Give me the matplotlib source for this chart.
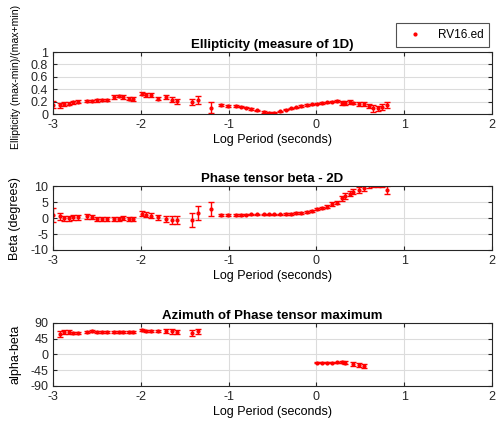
import numpy as np
import matplotlib
matplotlib.use("Agg")
import matplotlib.pyplot as plt

plt.rcParams['font.family'] = ['Liberation Sans', 'DejaVu Sans']

nan = np.nan

# log10 of period (s)
log_period = [-3.00, -2.92, -2.87, -2.82, -2.77, -2.71, -2.61, -2.56, -2.50, -2.44,
              -2.39, -2.31, -2.25, -2.20, -2.14, -2.09, -1.99, -1.94, -1.88, -1.80,
              -1.71, -1.65, -1.59, -1.42, -1.35, -1.20, -1.09, -1.01, -0.92, -0.86,
              -0.80, -0.74, -0.68, -0.60, -0.54, -0.48, -0.41, -0.35, -0.29, -0.23,
              -0.17, -0.11, -0.05, 0.01, 0.06, 0.12, 0.18, 0.23, 0.29, 0.33,
              0.38, 0.42, 0.48, 0.54, 0.60, 0.65, 0.70, 0.75, 0.80]

# ellipticity (max-min)/(max+min)
ellip = [0.15, 0.14, 0.16, 0.17, 0.19, 0.20, 0.21, 0.21, 0.22, 0.23,
         0.23, 0.27, 0.29, 0.27, 0.25, 0.24, 0.33, 0.31, 0.31, 0.25,
         0.28, 0.23, 0.21, 0.19, 0.23, 0.10, 0.145, 0.13, 0.13, 0.12,
         0.10, 0.08, 0.06, 0.035, 0.02, 0.02, 0.045, 0.07, 0.09, 0.11,
         0.13, 0.145, 0.16, 0.17, 0.18, 0.19, 0.20, 0.21, 0.18, 0.18,
         0.19, 0.18, 0.16, 0.16, 0.13, 0.09, 0.09, 0.12, 0.15]
ellip_err = [0.06, 0.04, 0.03, 0.02, 0.02, 0.02, 0.02, 0.02, 0.02, 0.02,
             0.02, 0.03, 0.02, 0.03, 0.02, 0.03, 0.03, 0.03, 0.03, 0.03,
             0.03, 0.04, 0.04, 0.05, 0.06, 0.09, 0.01, 0.01, 0.01, 0.01,
             0.01, 0.01, 0.01, 0.01, 0.01, 0.01, 0.01, 0.01, 0.01, 0.01,
             0.01, 0.01, 0.01, 0.01, 0.01, 0.01, 0.01, 0.01, 0.03, 0.03,
             0.03, 0.02, 0.03, 0.03, 0.04, 0.05, 0.04, 0.05, 0.05]

# phase tensor skew angle beta (degrees)
beta = [1.0, 0.5, 0.0, 0.0, 0.2, 0.2, 0.5, 0.4, -0.3, -0.3,
        -0.2, -0.3, -0.3, 0.0, -0.3, -0.3, 1.3, 1.0, 0.8, 0.2,
        -0.3, -0.7, -0.7, -0.7, 1.5, 2.8, 1.0, 1.0, 1.0, 1.0,
        1.1, 1.2, 1.2, 1.2, 1.2, 1.2, 1.2, 1.3, 1.3, 1.5,
        1.6, 1.8, 2.2, 2.8, 3.1, 3.6, 4.4, 4.8, 6.2, 6.9,
        7.6, 8.3, 8.8, 9.4, 10.5, 11.0, 11.0, 10.6, 8.8]
beta_err = [2.2, 1.2, 0.8, 0.8, 0.7, 0.7, 0.7, 0.7, 0.6, 0.6,
            0.6, 0.6, 0.6, 0.6, 0.6, 0.6, 0.8, 0.8, 0.8, 0.8,
            1.0, 1.3, 1.2, 2.2, 2.2, 2.3, 0.2, 0.2, 0.2, 0.2,
            0.2, 0.2, 0.2, 0.2, 0.2, 0.2, 0.2, 0.2, 0.2, 0.3,
            0.3, 0.3, 0.3, 0.4, 0.4, 0.4, 0.5, 0.5, 0.8, 0.8,
            0.8, 0.9, 1.0, 1.0, 1.0, 1.2, 1.2, 1.0, 1.2]

# azimuth of phase tensor maximum (alpha - beta, degrees)
azim = [nan, 58, 64, 64, 62, 62, 64, 67, 65, 65,
        65, 65, 65, 65, 65, 65, 69, 68, 68, 68,
        67, 66, 64, 62, 66, nan, nan, nan, nan, nan,
        nan, nan, nan, nan, nan, nan, nan, nan, nan, nan,
        nan, nan, nan, -24, -24, -24, -24, -23, -22, -24,
        nan, -27, -30, -33, nan, nan, nan, nan, nan]
azim_err = [0, 8, 5, 5, 3, 3, 3, 3, 3, 3,
            3, 3, 3, 3, 3, 3, 3, 3, 3, 3,
            5, 7, 6, 9, 8, 0, 0, 0, 0, 0,
            0, 0, 0, 0, 0, 0, 0, 0, 0, 0,
            0, 0, 0, 2, 2, 2, 2, 2, 4, 4,
            0, 5, 5, 5, 0, 0, 0, 0, 0]

site_name = "RV16.ed"

fig = plt.figure(figsize=(5.0, 4.37), dpi=100)

panels = [
    dict(rect=[0.106, 0.739, 0.878, 0.142], y=ellip, e=ellip_err, ylim=(0, 1),
         yticks=[0, 0.2, 0.4, 0.6, 0.8, 1], yticklabels=['0', '0.2', '0.4', '0.6', '0.8', '1'],
         title='Ellipticity (measure of 1D)', ylabel='Ellipticity (max-min)/(max+min)',
         ylabel_size=7.6, ylabel_y=0.6),
    dict(rect=[0.106, 0.428, 0.878, 0.146], y=beta, e=beta_err, ylim=(-10, 10),
         yticks=[-10, -5, 0, 5, 10], yticklabels=['-10', '-5', '0', '5', '10'],
         title='Phase tensor beta - 2D', ylabel='Beta (degrees)',
         ylabel_size=9, ylabel_y=0.5),
    dict(rect=[0.106, 0.117, 0.878, 0.144], y=azim, e=azim_err, ylim=(-90, 90),
         yticks=[-90, -45, 0, 45, 90], yticklabels=['-90', '-45', '0', '45', '90'],
         title='Azimuth of Phase tensor maximum', ylabel='alpha-beta',
         ylabel_size=9, ylabel_y=0.5),
]

axes = []
for p in panels:
    ax = fig.add_axes(p['rect'])
    h = ax.errorbar(log_period, p['y'], yerr=p['e'], fmt='.', color='red',
                    ms=4, elinewidth=1.0, capsize=2.2, capthick=1.0)
    ax.set_xlim(-3, 2)
    ax.set_ylim(*p['ylim'])
    ax.set_xticks([-3, -2, -1, 0, 1, 2])
    ax.set_xticklabels(['-3', '-2', '-1', '0', '1', '2'])
    ax.set_yticks(p['yticks'])
    ax.set_yticklabels(p['yticklabels'])
    ax.grid(True, color='#dcdcdc', lw=0.8)
    ax.set_axisbelow(True)
    ax.tick_params(direction='in', top=True, right=True, length=3,
                   labelsize=9, colors='#262626', width=0.8)
    for s in ax.spines.values():
        s.set_color('#262626')
        s.set_linewidth(0.8)
    ax.set_title(p['title'], fontsize=9.5, fontweight='bold', pad=3)
    ax.set_xlabel('Log Period (seconds)', fontsize=9, labelpad=2)
    ax.set_ylabel(p['ylabel'], fontsize=p['ylabel_size'])
    ax.yaxis.set_label_coords(-0.072, p['ylabel_y'])
    axes.append((ax, h))

ax0, h0 = axes[0]
leg = fig.legend([h0[0]], [site_name], loc='upper right',
                 bbox_to_anchor=(0.99, 0.96), fontsize=8.5, frameon=True,
                 fancybox=False, edgecolor='#262626', handlelength=2.2,
                 borderpad=0.5)
leg.get_frame().set_linewidth(0.8)

fig.savefig('out.png', dpi=100)
